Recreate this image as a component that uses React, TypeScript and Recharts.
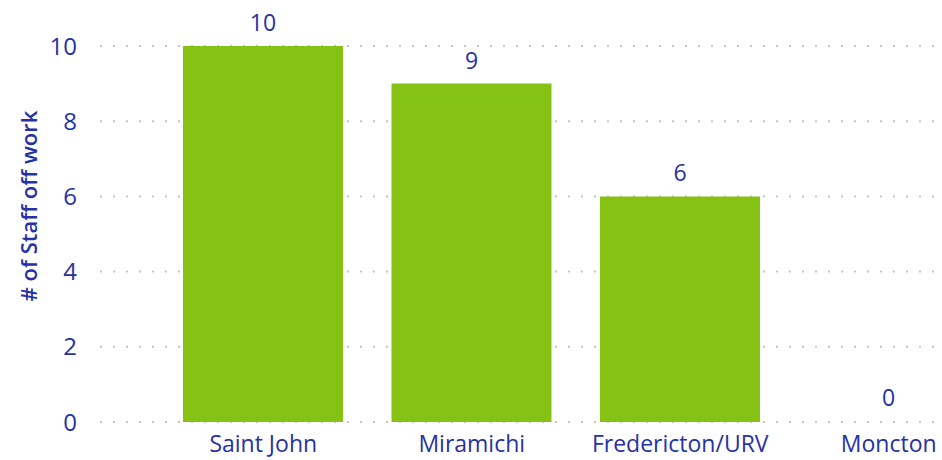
import React from 'react';
import { BarChart, Bar, XAxis, YAxis, CartesianGrid, LabelList, Cell } from 'recharts';

const categories = ['Saint John', 'Miramichi', 'Fredericton/URV', 'Moncton'];
const staffOff = [10, 9, 6, 0];
const yTicks = [0, 2, 4, 6, 8, 10];

const data = categories.map((name, i) => ({ name, value: staffOff[i] }));

const TEXT = '#2632a4';
const BAR = '#84c214';
const FONT = '"Open Sans", "Noto Sans", sans-serif';

const YLabel = (props: any) => {
  const vb = props.viewBox || {};
  const x = 28;
  const y = vb.y + vb.height / 2 - 28;
  return (
    <text
      x={x}
      y={y}
      transform={`rotate(-90, ${x}, ${y})`}
      textAnchor="middle"
      dominantBaseline="central"
      fill={TEXT}
      fontSize={22}
      fontWeight={600}
      fontFamily={FONT}
    >
      # of Staff off work
    </text>
  );
};

export default function App() {
  return (
    <div style={{ position: 'absolute', left: 0, top: 0, width: 942, height: 460, overflow: 'hidden', background: '#fff' }}>
      <BarChart
        width={993}
        height={460}
        data={data}
        margin={{ top: 46, right: 0, bottom: 0, left: 0 }}
      >
        <CartesianGrid vertical={false} stroke="#c4c4c4" strokeWidth={2} strokeDasharray="2 11" />
        <XAxis
          dataKey="name"
          axisLine={false}
          tickLine={false}
          height={38}
          padding={{ left: 59, right: 0 }}
          interval={0}
          tick={{ fill: TEXT, fontSize: 23, fontFamily: FONT }}
          tickMargin={8}
        />
        <YAxis
          width={100}
          domain={[0, 10]}
          ticks={yTicks}
          axisLine={false}
          tickLine={false}
          tickSize={0}
          tickMargin={23}
          tick={{ fill: TEXT, fontSize: 24, fontFamily: FONT }}
          label={<YLabel />}
        />
        <Bar dataKey="value" fill={BAR} barSize={160} minPointSize={1} isAnimationActive={false}>
          {data.map((d, i) => (
            <Cell key={i} fill={d.value === 0 ? 'transparent' : BAR} />
          ))}
          <LabelList dataKey="value" position="top" offset={15} fill={TEXT} fontSize={23} fontFamily={FONT} />
        </Bar>
      </BarChart>
    </div>
  );
}
